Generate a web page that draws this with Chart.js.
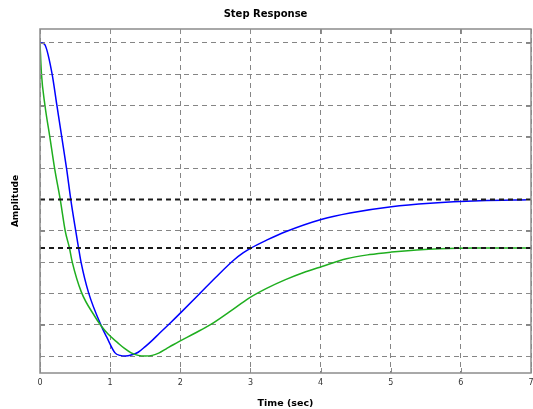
<!DOCTYPE html>
<html>
<head>
<meta charset="utf-8">
<script src="https://cdn.jsdelivr.net/npm/chart.js@4/dist/chart.umd.min.js"></script>
<style>
  html, body { margin: 0; padding: 0; background: #fff; }
  #wrap { width: 533px; height: 409px; position: relative; }
</style>
</head>
<body>
<div id="wrap"><canvas id="c" width="533" height="409"></canvas></div>
<script>
// Step response of two systems (time in seconds, amplitude in grid units)
const blueTime = [0, 0.06, 0.17, 0.24, 0.31, 0.38, 0.44, 0.51, 0.55, 0.585, 0.69, 0.88, 0.95, 1.07, 1.14, 1.22, 1.3, 1.4, 1.5, 1.6, 1.7, 1.85, 2.0, 2.28, 2.5, 2.76, 2.9, 3.0, 3.23, 3.5, 4.02, 4.42, 5.01, 5.56, 6.27, 7.0];
const blueAmp  = [10.0, 9.97, 9.04, 8.02, 7.0, 5.97, 4.98, 3.99, 3.45, 3.0, 2.04, 0.93, 0.61, 0.1, 0.02, 0.0, 0.03, 0.12, 0.3, 0.5, 0.72, 1.04, 1.37, 2.0, 2.5, 3.06, 3.3, 3.44, 3.7, 3.97, 4.37, 4.57, 4.77, 4.88, 4.96, 4.99];

const greenTime = [0, 0.02, 0.07, 0.14, 0.21, 0.29, 0.36, 0.42, 0.46, 0.59, 0.78, 0.86, 0.97, 1.11, 1.2, 1.3, 1.4, 1.5, 1.6, 1.7, 1.8, 1.9, 1.98, 2.2, 2.43, 2.7, 2.98, 3.23, 3.5, 3.75, 4.02, 4.37, 4.7, 5.01, 5.37, 5.7, 6.2, 7.0];
const greenAmp  = [10.0, 9.04, 8.02, 7.0, 5.97, 4.98, 3.99, 3.45, 3.0, 2.04, 1.27, 1.0, 0.7, 0.42, 0.25, 0.1, 0.02, 0.0, 0.02, 0.1, 0.23, 0.36, 0.46, 0.72, 1.0, 1.41, 1.85, 2.16, 2.44, 2.66, 2.86, 3.11, 3.24, 3.32, 3.39, 3.43, 3.45, 3.45];

// Final (steady-state) values of each response
const blueSteady = 5.0;
const greenSteady = 3.45;

// Axis ticks
const xTicks = [0, 1, 2, 3, 4, 5, 6, 7];
const yGrid = [0, 1, 2, 3, 4, 5, 6, 7, 8, 9, 10];

const pts = (t, v) => t.map((x, i) => ({ x: x, y: v[i] }));
const flat = (v) => [{ x: xTicks[0], y: v }, { x: xTicks[xTicks.length - 1], y: v }];

// Frame on all four sides of the plot area, with short inward tick marks
const boxPlugin = {
  id: 'box',
  afterDatasetsDraw(chart) {
    const { ctx, chartArea: a, scales } = chart;
    const len = 5;
    ctx.save();
    ctx.strokeStyle = '#8c8c8c';
    ctx.setLineDash([]);
    ctx.lineWidth = 1;
    ctx.beginPath();
    scales.x.ticks.forEach(t => {
      const px = Math.round(scales.x.getPixelForValue(t.value)) + 0.5;
      ctx.moveTo(px, a.top); ctx.lineTo(px, a.top + len);
      ctx.moveTo(px, a.bottom); ctx.lineTo(px, a.bottom - len);
    });
    scales.y.ticks.forEach(t => {
      const py = Math.round(scales.y.getPixelForValue(t.value)) + 0.5;
      ctx.moveTo(a.left, py); ctx.lineTo(a.left + len, py);
      ctx.moveTo(a.right, py); ctx.lineTo(a.right - len, py);
    });
    ctx.stroke();
    ctx.lineWidth = 1.5;
    ctx.strokeRect(a.left, a.top, a.right - a.left, a.bottom - a.top);
    ctx.restore();
  }
};

new Chart(document.getElementById('c'), {
  type: 'line',
  data: {
    datasets: [
      { data: flat(blueSteady), borderColor: '#1a1a1a', borderWidth: 2, borderDash: [5, 4], pointRadius: 0 },
      { data: flat(greenSteady), borderColor: '#1a1a1a', borderWidth: 2, borderDash: [5, 4], pointRadius: 0 },
      { data: pts(greenTime, greenAmp), borderColor: '#1fae1f', borderWidth: 1.5, pointRadius: 0, cubicInterpolationMode: 'monotone' },
      { data: pts(blueTime, blueAmp), borderColor: '#0000ff', borderWidth: 1.5, pointRadius: 0, cubicInterpolationMode: 'monotone' }
    ]
  },
  options: {
    responsive: false,
    animation: false,
    layout: { padding: { top: 0, right: 2, bottom: 0, left: 0 } },
    plugins: {
      legend: { display: false },
      tooltip: { enabled: false },
      title: {
        display: true,
        text: 'Step Response',
        color: '#000',
        font: { family: 'DejaVu Sans', size: 10, weight: 'bold' },
        padding: { top: 8, bottom: 9 }
      }
    },
    scales: {
      x: {
        type: 'linear',
        min: 0,
        max: 7,
        afterBuildTicks: (s) => { s.ticks = xTicks.map(v => ({ value: v })); },
        afterFit: (s) => { s.height = 36; s.paddingLeft = 0; s.paddingRight = 0; },
        grid: { color: '#858585', lineWidth: 1, drawTicks: false },
        border: { display: false, dash: [5, 4] },
        ticks: { color: '#333', padding: 5, font: { family: 'DejaVu Sans', size: 8 }, maxRotation: 0 },
        title: {
          display: true,
          text: 'Time (sec)',
          color: '#000',
          font: { family: 'DejaVu Sans', size: 9.5, weight: 'bold' },
          padding: { top: 0, bottom: 0 }
        }
      },
      y: {
        type: 'linear',
        min: -17 / 31.3,
        max: 10 + 14 / 31.3,
        afterBuildTicks: (s) => { s.ticks = yGrid.map(v => ({ value: v })); },
        afterFit: (s) => { s.width = 40; },
        grid: { color: '#858585', lineWidth: 1, drawTicks: false },
        border: { display: false, dash: [5, 4] },
        ticks: { display: false },
        title: {
          display: true,
          text: 'Amplitude',
          color: '#000',
          font: { family: 'DejaVu Sans', size: 9, weight: 'bold' },
          padding: { top: 10, bottom: 0 }
        }
      }
    }
  },
  plugins: [boxPlugin]
});
</script>
</body>
</html>
